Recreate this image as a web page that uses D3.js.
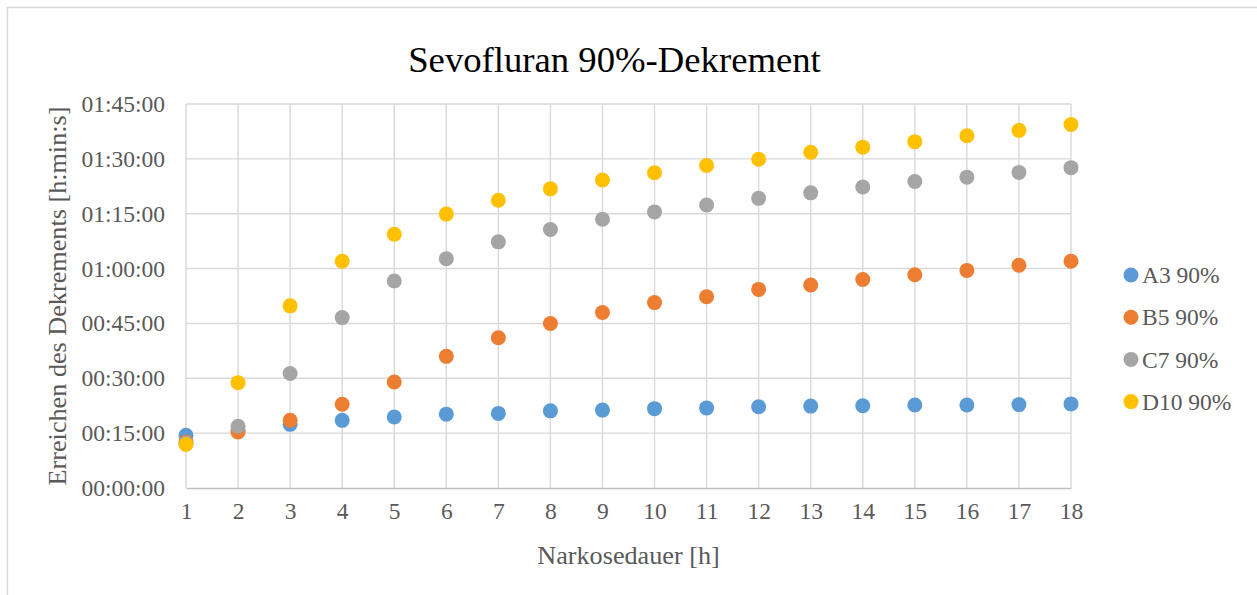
<!DOCTYPE html>
<html lang="en">
<head>
<meta charset="utf-8">
<script src="https://d3js.org/d3.v7.min.js"></script>
<style>
  body { margin: 0; background: #ffffff; }
  svg { display: block; font-family: "Liberation Serif", "Times New Roman", serif; }
  .tick text { fill: #595959; }
</style>
</head>
<body>
<script>
// Narkosedauer [h]
var hours = [1, 2, 3, 4, 5, 6, 7, 8, 9, 10, 11, 12, 13, 14, 15, 16, 17, 18];

// time to reach 90% decrement, in minutes
var a3 = [14.4, 15.8, 17.4, 18.5, 19.4, 20.2, 20.4, 21.1, 21.3, 21.7, 21.9, 22.2, 22.4, 22.5, 22.7, 22.7, 22.8, 23.0];
var b5 = [12.6, 15.3, 18.5, 22.9, 29.0, 36.0, 41.1, 45.0, 48.0, 50.7, 52.3, 54.3, 55.5, 57.0, 58.3, 59.5, 60.9, 62.0];
var c7 = [12.3, 16.9, 31.3, 46.6, 56.6, 62.7, 67.3, 70.7, 73.5, 75.5, 77.4, 79.2, 80.7, 82.3, 83.8, 85.0, 86.3, 87.6];
var d10 = [11.9, 28.8, 49.8, 62.0, 69.4, 74.9, 78.7, 81.8, 84.2, 86.2, 88.2, 89.9, 91.8, 93.2, 94.7, 96.3, 97.8, 99.4];

var seriesNames = ["A3 90%", "B5 90%", "C7 90%", "D10 90%"];
var seriesColors = ["#5B9BD5", "#ED7D31", "#A5A5A5", "#FFC000"];
var seriesValues = [a3, b5, c7, d10];

var yTicks = [0, 15, 30, 45, 60, 75, 90, 105];
var yTickLabels = ["00:00:00", "00:15:00", "00:30:00", "00:45:00", "01:00:00", "01:15:00", "01:30:00", "01:45:00"];

var width = 1257, height = 595;
var plot = { left: 186, right: 1071, top: 104, bottom: 488 };

var svg = d3.select("body").append("svg")
    .attr("width", width)
    .attr("height", height);

// chart border
svg.append("rect")
    .attr("x", 7.5).attr("y", 7.5)
    .attr("width", 1262).attr("height", 610)
    .attr("fill", "#fff")
    .attr("stroke", "#d9d9d9")
    .attr("stroke-width", 1.5);

var x = d3.scaleLinear().domain([1, 18]).range([plot.left, plot.right]);
var y = d3.scaleLinear().domain([0, 105]).range([plot.bottom, plot.top]);

// grid
svg.append("g").selectAll("line")
    .data(yTicks.slice(1))
    .enter().append("line")
    .attr("x1", plot.left).attr("x2", plot.right)
    .attr("y1", function(d) { return y(d); })
    .attr("y2", function(d) { return y(d); })
    .attr("stroke", "#d9d9d9").attr("stroke-width", 1.4);

svg.append("g").selectAll("line")
    .data(hours)
    .enter().append("line")
    .attr("x1", function(d) { return x(d); })
    .attr("x2", function(d) { return x(d); })
    .attr("y1", plot.top).attr("y2", plot.bottom)
    .attr("stroke", "#d9d9d9").attr("stroke-width", 1.4);

// axes
var xAxis = d3.axisBottom(x).tickValues(hours).tickSize(0).tickPadding(14);
var gx = svg.append("g")
    .attr("transform", "translate(0," + plot.bottom + ")")
    .call(xAxis);
gx.select(".domain").attr("stroke", "#bfbfbf").attr("stroke-width", 1.6);
gx.selectAll("text").attr("font-size", "23.5px").attr("font-family", "Liberation Serif");

var yAxis = d3.axisLeft(y).tickValues(yTicks).tickSize(0).tickPadding(21)
    .tickFormat(function(d, i) { return yTickLabels[i]; });
var gy = svg.append("g")
    .attr("transform", "translate(" + plot.left + ",0)")
    .call(yAxis);
gy.select(".domain").remove();
gy.selectAll("text").attr("font-size", "23.5px").attr("font-family", "Liberation Serif");

// points
seriesValues.forEach(function(vals, s) {
    svg.append("g").selectAll("circle")
        .data(vals)
        .enter().append("circle")
        .attr("cx", function(d, i) { return x(hours[i]); })
        .attr("cy", function(d) { return y(d); })
        .attr("r", 7.5)
        .attr("fill", seriesColors[s]);
});

// title
svg.append("text")
    .attr("x", (plot.left + plot.right) / 2 - 14)
    .attr("y", 72)
    .attr("text-anchor", "middle")
    .attr("font-size", "36.7px")
    .attr("fill", "#000")
    .text("Sevofluran 90%-Dekrement");

// axis titles
svg.append("text")
    .attr("x", (plot.left + plot.right) / 2)
    .attr("y", 564)
    .attr("text-anchor", "middle")
    .attr("font-size", "26.2px")
    .attr("fill", "#595959")
    .text("Narkosedauer [h]");

svg.append("text")
    .attr("transform", "translate(66," + ((plot.top + plot.bottom) / 2) + ") rotate(-90)")
    .attr("text-anchor", "middle")
    .attr("font-size", "26.2px")
    .attr("fill", "#595959")
    .text("Erreichen des Dekrements [h:min:s]");

// legend
var legend = svg.append("g").selectAll("g")
    .data(seriesNames)
    .enter().append("g")
    .attr("transform", function(d, i) { return "translate(1131," + (275 + i * 42.2) + ")"; });
legend.append("circle")
    .attr("r", 7.5)
    .attr("fill", function(d, i) { return seriesColors[i]; });
legend.append("text")
    .attr("x", 11)
    .attr("dy", "0.35em")
    .attr("font-size", "23.5px")
    .attr("fill", "#595959")
    .text(function(d) { return d; });
</script>
</body>
</html>
